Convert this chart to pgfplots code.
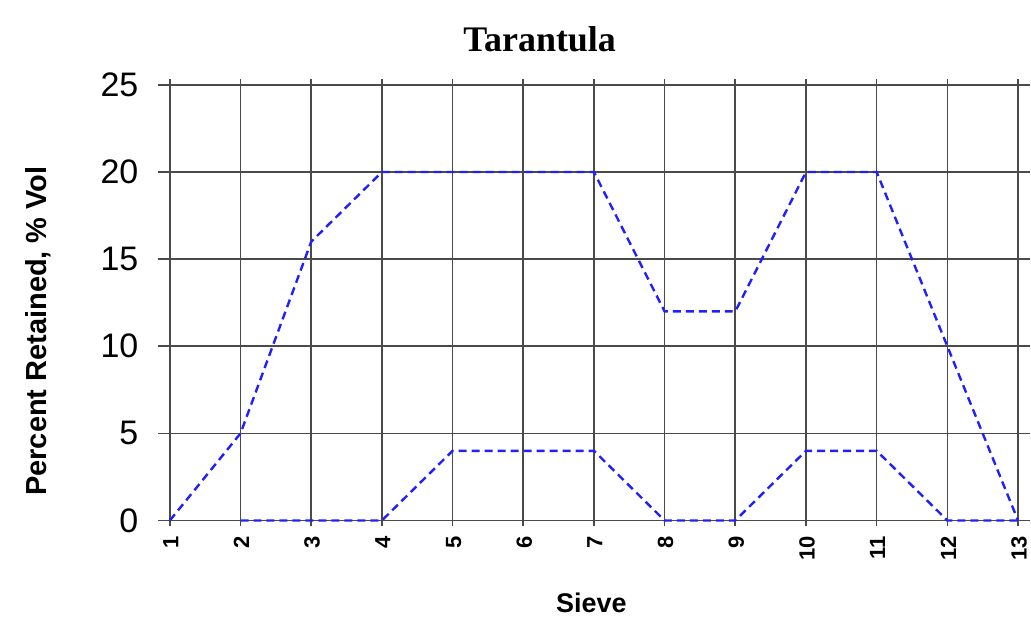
\documentclass[border=0pt]{standalone}
\usepackage{pgfplots}
\pgfplotsset{compat=1.18}
\usepackage{fontspec}
\setmainfont{Liberation Sans}
\newfontfamily\titlefont{Liberation Serif}
\definecolor{gridgray}{HTML}{4A4A4A}
\definecolor{lineblue}{HTML}{2020FF}
\begin{document}
\begin{tikzpicture}
\path[use as bounding box] (-170pt,-120pt) rectangle (862pt,521pt);
\begin{axis}[
  at={(0pt,0pt)}, anchor=origin,
  scale only axis, width=849pt, height=436pt,
  xmin=1, xmax=13, ymin=0, ymax=25,
  xtick={1,...,13}, ytick={0,5,...,25},
  grid=major,
  grid style={gridgray, line width=1.6pt},
  axis line style={gridgray, line width=1.6pt},
  tick style={gridgray, line width=1.6pt},
  tick align=outside,
  major tick length=12pt,
  xtick style={/pgfplots/major tick length=6pt},
  yticklabel style={font=\fontsize{34}{40}\selectfont, xshift=-16pt},
  xticklabel style={font=\bfseries\fontsize{22}{26}\selectfont, rotate=90, anchor=east, xshift=0pt, yshift=-1pt},
  /pgf/number format/assume math mode=true,
  title={\titlefont\bfseries\fontsize{36}{42}\selectfont Tarantula},
  title style={at={(axis description cs:0.436,1.09)}, anchor=center},
  xlabel={\bfseries\fontsize{27}{32}\selectfont Sieve},
  xlabel style={at={(axis description cs:0.497,-0.188)}, anchor=center},
  ylabel={\bfseries\fontsize{29}{34}\selectfont Percent Retained, \% Vol},
  ylabel style={at={(axis description cs:-0.155,0.435)}, anchor=center, rotate=0},
  clip=false,
]
\addplot[lineblue, line width=2.4pt, dash pattern=on 8pt off 5pt] coordinates {
 (1,0) (2,5) (3,16) (4,20) (5,20) (6,20) (7,20) (8,12) (9,12) (10,20) (11,20) (12,10) (13,0)};
\addplot[lineblue, line width=2.4pt, dash pattern=on 8pt off 5pt] coordinates {
 (2,0) (3,0) (4,0) (5,4) (6,4) (7,4) (8,0) (9,0) (10,4) (11,4) (12,0) (13,0)};
\end{axis}
\end{tikzpicture}
\end{document}
